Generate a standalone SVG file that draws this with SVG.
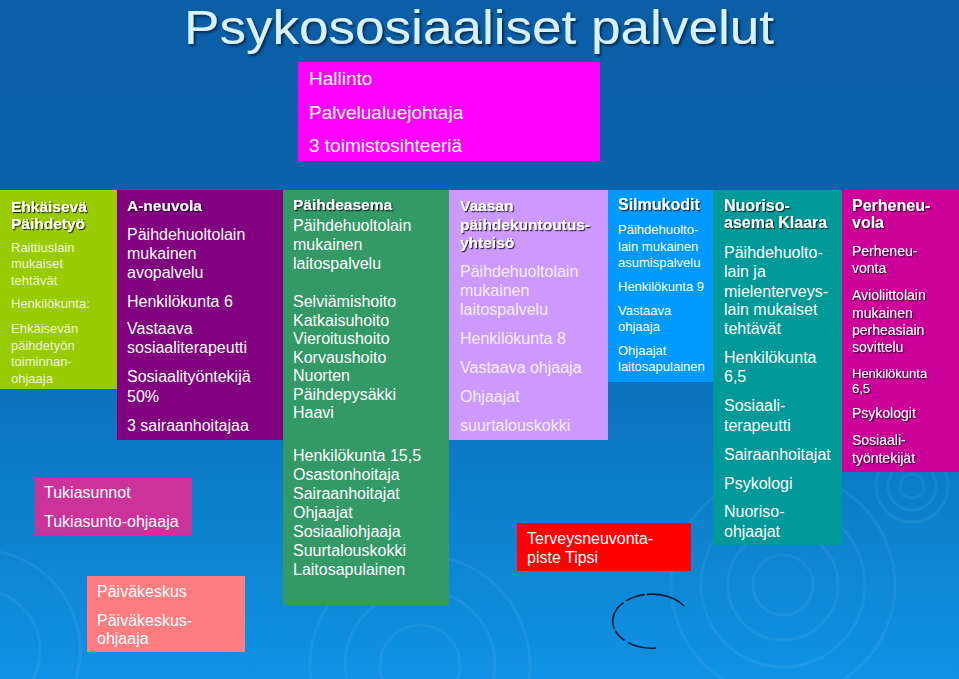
<svg xmlns="http://www.w3.org/2000/svg" width="959" height="679" viewBox="0 0 959 679">
<defs>
<linearGradient id="bg" x1="0" y1="0" x2="0" y2="1">
<stop offset="0" stop-color="#0b5ea6"/>
<stop offset="0.4" stop-color="#0b64ae"/>
<stop offset="0.75" stop-color="#0c80cc"/>
<stop offset="1" stop-color="#1192e4"/>
</linearGradient>
<filter id="sh" x="-10%" y="-30%" width="130%" height="160%">
<feDropShadow dx="1.2" dy="1.2" stdDeviation="0.5" flood-color="#000" flood-opacity="0.75"/>
</filter>
<filter id="tsh" x="-5%" y="-20%" width="110%" height="150%">
<feDropShadow dx="2" dy="2" stdDeviation="1" flood-color="#04284a" flood-opacity="0.9"/>
</filter>
<style>
.t{font-family:"Liberation Sans",Arial,sans-serif;fill:#fff}
.hd{font-weight:bold;font-size:15.5px;filter:url(#sh)}
.hd16{font-weight:bold;font-size:16px;filter:url(#sh)}
.s13{font-size:13px}
.s14{font-size:14px}
.s16{font-size:16px}
.s19{font-size:19px}
.pale{fill:#eef3dc}
.lav{fill:#f6eeff}
.shd{filter:url(#sh)}
.ring{fill:none;stroke:#ffffff;stroke-opacity:0.06;stroke-width:3}
</style>
</defs>
<rect width="959" height="679" fill="url(#bg)"/>
<g id="ripples">
<circle class="ring" cx="783" cy="585" r="30"/>
<circle class="ring" cx="783" cy="585" r="55"/>
<circle class="ring" cx="783" cy="585" r="82"/>
<circle class="ring" cx="783" cy="585" r="112"/>
<circle class="ring" cx="912" cy="486" r="12"/>
<circle class="ring" cx="912" cy="486" r="24"/>
<circle class="ring" cx="912" cy="486" r="36"/>
<circle class="ring" cx="420" cy="665" r="40"/>
<circle class="ring" cx="420" cy="665" r="75"/>
<circle class="ring" cx="420" cy="665" r="110"/>
<circle class="ring" cx="-20" cy="650" r="60"/>
<circle class="ring" cx="-20" cy="650" r="100"/>
</g>
<g id="title">
<text class="t" x="184" y="43.5" font-size="48" textLength="590" lengthAdjust="spacingAndGlyphs" style="fill:#d8f1fb;filter:url(#tsh)">Psykososiaaliset palvelut</text>
</g>
<g id="connectors"/>
<g id="hallinto">
<rect x="298" y="62" width="302" height="99" fill="#ff00ff"/>
<text class="t s19" x="309" y="85">Hallinto</text>
<text class="t s19" x="309" y="119">Palvelualuejohtaja</text>
<text class="t s19" x="309" y="152">3 toimistosihteeriä</text>
</g>
<g id="ehkaiseva">
<rect x="0" y="190" width="117" height="199" fill="#99cc00"/>
<text class="t hd" x="11" y="212">Ehkäisevä</text>
<text class="t hd" x="11" y="229">Päihdetyö</text>
<text class="t s13 pale" x="11" y="252">Raittiuslain</text>
<text class="t s13 pale" x="11" y="268">mukaiset</text>
<text class="t s13 pale" x="11" y="285">tehtävät</text>
<text class="t s13 pale" x="11" y="308">Henkilökunta:</text>
<text class="t s13 pale" x="11" y="333">Ehkäisevän</text>
<text class="t s13 pale" x="11" y="350">päihdetyön</text>
<text class="t s13 pale" x="11" y="366">toiminnan-</text>
<text class="t s13 pale" x="11" y="383">ohjaaja</text>
</g>
<g id="aneuvola">
<rect x="117" y="190" width="166" height="250" fill="#800080"/>
<text class="t hd" x="127" y="211">A-neuvola</text>
<text class="t s16" x="127" y="240">Päihdehuoltolain</text>
<text class="t s16" x="127" y="259">mukainen</text>
<text class="t s16" x="127" y="278">avopalvelu</text>
<text class="t s16" x="127" y="307">Henkilökunta 6</text>
<text class="t s16" x="127" y="334">Vastaava</text>
<text class="t s16" x="127" y="353">sosiaaliterapeutti</text>
<text class="t s16" x="127" y="382">Sosiaalityöntekijä</text>
<text class="t s16" x="127" y="402">50%</text>
<text class="t s16" x="127" y="431">3 sairaanhoitajaa</text>
</g>
<g id="paihdeasema">
<rect x="283" y="190" width="166" height="415" fill="#339966"/>
<text class="t hd" x="293" y="210">Päihdeasema</text>
<text class="t s16" x="293" y="231">Päihdehuoltolain</text>
<text class="t s16" x="293" y="250">mukainen</text>
<text class="t s16" x="293" y="269">laitospalvelu</text>
<text class="t s16" x="293" y="307">Selviämishoito</text>
<text class="t s16" x="293" y="326">Katkaisuhoito</text>
<text class="t s16" x="293" y="344">Vieroitushoito</text>
<text class="t s16" x="293" y="363">Korvaushoito</text>
<text class="t s16" x="293" y="381">Nuorten</text>
<text class="t s16" x="293" y="400">Päihdepysäkki</text>
<text class="t s16" x="293" y="418">Haavi</text>
<text class="t s16" x="293" y="461">Henkilökunta 15,5</text>
<text class="t s16" x="293" y="480">Osastonhoitaja</text>
<text class="t s16" x="293" y="499">Sairaanhoitajat</text>
<text class="t s16" x="293" y="518">Ohjaajat</text>
<text class="t s16" x="293" y="537">Sosiaaliohjaaja</text>
<text class="t s16" x="293" y="556">Suurtalouskokki</text>
<text class="t s16" x="293" y="575">Laitosapulainen</text>
</g>
<g id="vaasan">
<rect x="449" y="190" width="159" height="250" fill="#cc99ff"/>
<text class="t hd" x="460" y="211">Vaasan</text>
<text class="t hd" x="460" y="230">päihdekuntoutus-</text>
<text class="t hd" x="460" y="248">yhteisö</text>
<text class="t s16 lav" x="460" y="277">Päihdehuoltolain</text>
<text class="t s16 lav" x="460" y="296">mukainen</text>
<text class="t s16 lav" x="460" y="315">laitospalvelu</text>
<text class="t s16 lav" x="460" y="344">Henkilökunta 8</text>
<text class="t s16 lav" x="460" y="373">Vastaava ohjaaja</text>
<text class="t s16 lav" x="460" y="402">Ohjaajat</text>
<text class="t s16 lav" x="460" y="431">suurtalouskokki</text>
</g>
<g id="silmukodit">
<rect x="608" y="190" width="105" height="192" fill="#0099ff"/>
<text class="t hd16" x="618" y="210">Silmukodit</text>
<text class="t s13" x="618" y="234">Päihdehuolto-</text>
<text class="t s13" x="618" y="251">lain mukainen</text>
<text class="t s13" x="618" y="267">asumispalvelu</text>
<text class="t s13" x="618" y="291">Henkilökunta 9</text>
<text class="t s13" x="618" y="315">Vastaava</text>
<text class="t s13" x="618" y="331">ohjaaja</text>
<text class="t s13" x="618" y="355">Ohjaajat</text>
<text class="t s13" x="618" y="371">laitosapulainen</text>
</g>
<g id="nuorisoasema">
<rect x="713" y="190" width="129" height="355" fill="#009999"/>
<text class="t hd16" x="724" y="211">Nuoriso-</text>
<text class="t hd16" x="724" y="228">asema Klaara</text>
<text class="t s16" x="724" y="258">Päihdehuolto-</text>
<text class="t s16" x="724" y="277">lain ja</text>
<text class="t s16" x="724" y="297">mielenterveys-</text>
<text class="t s16" x="724" y="315">lain mukaiset</text>
<text class="t s16" x="724" y="334">tehtävät</text>
<text class="t s16" x="724" y="363">Henkilökunta</text>
<text class="t s16" x="724" y="382">6,5</text>
<text class="t s16" x="724" y="411">Sosiaali-</text>
<text class="t s16" x="724" y="431">terapeutti</text>
<text class="t s16" x="724" y="460">Sairaanhoitajat</text>
<text class="t s16" x="724" y="489">Psykologi</text>
<text class="t s16" x="724" y="517">Nuoriso-</text>
<text class="t s16" x="724" y="537">ohjaajat</text>
</g>
<g id="perheneuvola">
<rect x="842" y="190" width="117" height="282" fill="#cc0099"/>
<text class="t hd16" x="852" y="211">Perheneu-</text>
<text class="t hd16" x="852" y="228">vola</text>
<text class="t s14 shd" x="852" y="256">Perheneu-</text>
<text class="t s14 shd" x="852" y="273">vonta</text>
<text class="t s14 shd" x="852" y="300">Avioliittolain</text>
<text class="t s14 shd" x="852" y="318">mukainen</text>
<text class="t s14 shd" x="852" y="335">perheasiain</text>
<text class="t s14 shd" x="852" y="352">sovittelu</text>
<text class="t s13 shd" x="852" y="378">Henkilökunta</text>
<text class="t s13 shd" x="852" y="393">6,5</text>
<text class="t s14 shd" x="852" y="418">Psykologit</text>
<text class="t s14 shd" x="852" y="445">Sosiaali-</text>
<text class="t s14 shd" x="852" y="463">työntekijät</text>
</g>
<g id="tukiasunnot">
<rect x="35" y="478" width="157" height="57" fill="#cc3399"/>
<text class="t s16" x="44" y="498">Tukiasunnot</text>
<text class="t s16" x="44" y="527">Tukiasunto-ohjaaja</text>
</g>
<g id="paivakeskus">
<rect x="87" y="576" width="158" height="76" fill="#ff7c80"/>
<text class="t s16" x="97" y="597">Päiväkeskus</text>
<text class="t s16" x="97" y="626">Päiväkeskus-</text>
<text class="t s16" x="97" y="644">ohjaaja</text>
</g>
<g id="tipsi">
<rect x="517" y="523" width="174" height="48" fill="#ff0000"/>
<text class="t s16" x="527" y="544">Terveysneuvonta-</text>
<text class="t s16" x="527" y="563">piste Tipsi</text>
</g>
<g id="ellipse-mark">
<path d="M684,606 A39,27 0 1,0 656,648" fill="none" stroke="#0d1b2e" stroke-width="1.6" stroke-dasharray="40 2 20 3 30 2 14 4 40 5"/>
</g>
</svg>
